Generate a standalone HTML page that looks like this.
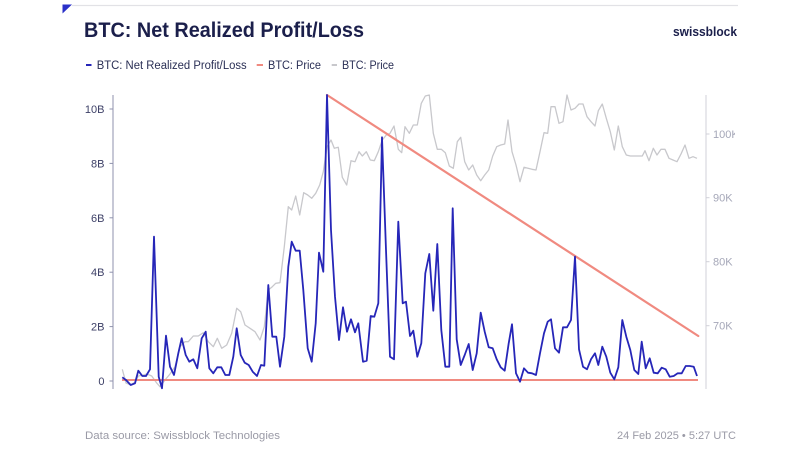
<!DOCTYPE html>
<html>
<head>
<meta charset="utf-8">
<style>
  html, body { margin:0; padding:0; background:#ffffff; }
  body { width:800px; height:450px; overflow:hidden; }
  svg { display:block; }
  text { font-family: "Liberation Sans", "DejaVu Sans", sans-serif; }
</style>
</head>
<body>
<svg width="800" height="450" viewBox="0 0 800 450" xmlns="http://www.w3.org/2000/svg">
  <rect x="0" y="0" width="800" height="450" fill="#ffffff"/>
  <defs>
    <clipPath id="rclip"><rect x="700" y="80" width="35" height="320"/></clipPath>
  </defs>

  <!-- top decoration -->
  <line x1="72" y1="5.5" x2="738" y2="5.5" stroke="#e2e2e6" stroke-width="1.2"/>
  <polygon points="62.5,4.5 72,4.5 62.5,13.5" fill="#2a30c8"/>

  <!-- title -->
  <text x="84" y="37" font-size="21" font-weight="bold" fill="#1b1f4b" textLength="280" lengthAdjust="spacingAndGlyphs">BTC: Net Realized Profit/Loss</text>
  <!-- logo -->
  <text x="673" y="36" font-size="13" font-weight="bold" fill="#1b1f4b" textLength="64" lengthAdjust="spacingAndGlyphs">swissblock</text>

  <!-- legend -->
  <line x1="86" y1="65" x2="91.5" y2="65" stroke="#2626b8" stroke-width="2"/>
  <text x="96.7" y="69" font-size="11.5" fill="#2a2f55" textLength="150" lengthAdjust="spacingAndGlyphs">BTC: Net Realized Profit/Loss</text>
  <line x1="256.7" y1="65" x2="263" y2="65" stroke="#f08a80" stroke-width="2"/>
  <text x="268" y="69" font-size="11.5" fill="#2a2f55" textLength="53" lengthAdjust="spacingAndGlyphs">BTC: Price</text>
  <line x1="331.7" y1="65" x2="337" y2="65" stroke="#c8c8cc" stroke-width="2"/>
  <text x="342" y="69" font-size="11.5" fill="#2a2f55" textLength="52" lengthAdjust="spacingAndGlyphs">BTC: Price</text>

  <!-- left axis -->
  <line x1="113" y1="95" x2="113" y2="389" stroke="#8f92ad" stroke-width="1"/>
  <g stroke="#8f92ad" stroke-width="1">
    <line x1="109.5" y1="381" x2="113" y2="381"/>
    <line x1="109.5" y1="326.6" x2="113" y2="326.6"/>
    <line x1="109.5" y1="272.2" x2="113" y2="272.2"/>
    <line x1="109.5" y1="217.8" x2="113" y2="217.8"/>
    <line x1="109.5" y1="163.4" x2="113" y2="163.4"/>
    <line x1="109.5" y1="109" x2="113" y2="109"/>
  </g>
  <g font-size="11" fill="#3c3f66" text-anchor="end">
    <text x="104.5" y="385">0</text>
    <text x="104.5" y="330.6">2B</text>
    <text x="104.5" y="276.2">4B</text>
    <text x="104.5" y="221.8">6B</text>
    <text x="104.5" y="167.4">8B</text>
    <text x="104.5" y="113">10B</text>
  </g>

  <!-- right axis -->
  <line x1="706" y1="95" x2="706" y2="389" stroke="#d0d0d8" stroke-width="1"/>
  <g stroke="#d0d0d8" stroke-width="1">
    <line x1="706" y1="134" x2="709.5" y2="134"/>
    <line x1="706" y1="197.7" x2="709.5" y2="197.7"/>
    <line x1="706" y1="261.7" x2="709.5" y2="261.7"/>
    <line x1="706" y1="325.7" x2="709.5" y2="325.7"/>
  </g>
  <g font-size="11" fill="#a5a7b8" clip-path="url(#rclip)">
    <text x="713" y="138">100K</text>
    <text x="713" y="201.7">90K</text>
    <text x="713" y="265.7">80K</text>
    <text x="713" y="329.7">70K</text>
  </g>

  <!-- grey price series -->
  <polyline fill="none" stroke="#c8c8cc" stroke-width="1.3" stroke-linejoin="round" points="122.3,369.3 126,383 130.7,385 135,382 138.3,376 143.3,375 147,374 151.7,376 156.7,383 160,386.7 165,380 170,374 175,366.7 180,346.7 185,341.7 188.3,341.7 193.3,336 198.3,336 203.3,332.7 208.3,341.7 213.3,346.7 217.3,338.3 221.7,348.3 226.7,345 231.7,333.3 236.7,308.3 240.7,311.7 245,325 250,328.3 255,331.7 260,340 264.3,326.7 268.3,290 272.3,286.7 275.7,283.3 280,282.7 284.3,246.7 288.3,206.7 291.7,210 295.7,196 299.7,215 303.7,192.7 307.7,195 311.7,198.3 315.7,193.3 319.7,185 323.3,171.7 327,146.7 331,140 334.3,148.3 338.3,147.3 342.3,177.3 346.7,185 351,160.7 355,161.7 359,151.7 362.3,156 366.3,151.7 370.3,160 374.3,160.7 378.3,151.7 382.3,140 386.3,135 390,133.3 394,126 398.3,149.3 401.7,152.7 405,126.7 409.3,133.3 413.3,125 417.3,125 421.3,103.3 425.3,96 429.3,95 433.3,133.3 437.3,149.3 441.3,149.3 445.3,152.7 449.3,166 453.3,168.3 457.3,141.7 460.7,137.3 464.7,161.7 468.7,170 472.7,165 476.7,175 480.7,180.7 484.7,175 488.7,170 492.7,156 496.7,146.7 500.7,145 504.7,144 508,120 512,151.7 516,165 520,181.7 524,167.3 528,168.3 532,169.3 536,170 540,151.7 544,132.7 547.7,133.3 551,106.7 555,106.7 559,123.3 563,121.7 567,95 571,110 575,108.3 579,104 583,104 587,116.7 591,121.7 595,126 598.3,110.7 602.3,104 606.3,118.3 610.3,131.7 614.3,150 618.3,126 622.3,146.7 626.3,155 630.3,156 634.3,156 638.3,156 642.3,156 645,150.7 649,160.7 653.3,148.3 657,155 661,149.3 665,149.3 669,158.3 673,160 677,161.7 681,154 685,145 689,158.3 693,156.7 697,158.3"/>

  <!-- red price lines -->
  <line x1="327" y1="95" x2="698.3" y2="336" stroke="#f08a80" stroke-width="2.2" stroke-linecap="round"/>
  <line x1="122" y1="380" x2="698" y2="380" stroke="#f08a80" stroke-width="2"/>

  <!-- blue NRPL series -->
  <polyline fill="none" stroke="#2626b8" stroke-width="1.8" stroke-linejoin="round" points="122.3,377.3 126,380 130.7,385 135,383.3 138.3,370.7 142.3,376 146,376 150,369.3 154,236.7 158.7,376.7 162,388.3 166,335.7 170,366.7 174,375 178.3,353.3 181.7,338.3 185.7,355 189.3,361.7 193.3,359.3 197.3,368.3 201.7,338.3 205.7,331.7 209.3,368.3 213.3,373.3 217.3,367.3 221.3,367.3 225.3,375 229.3,375 233.3,356.7 236.7,328.3 240.7,355 244.7,362.7 248.7,365 252.7,371.7 257,376 261,365 264.3,365.7 268.3,285 272.3,336.7 276.3,336.7 280,366.7 284.3,336.7 288.3,266.7 291.7,241.7 295.7,250.7 299.7,250.7 303.3,290 307.7,348.3 311.7,361.7 315.7,323.3 319,252.7 323.3,271.7 327,95 331,230 335,296.7 339,340 343,307.3 347,331.7 351,319.3 355,332.3 358.3,323.3 363,361.7 366.7,360.7 370.7,316 374.3,316.7 378.3,303.3 382,137.3 386,250 390,356.7 394,359.3 398.3,221.7 402.7,303.3 406,301.7 410,336 413.3,330.7 417.3,356.7 421.3,343.3 425.3,273.3 429.3,254 433.3,310.7 437.3,244 441.3,330 445.3,366.7 449.3,366.7 452.7,208.3 456.7,339.3 460.7,365 464.7,355 468.7,344 472.7,370 476.7,353.3 480.7,312.7 484.7,331.7 488.7,347.3 492.7,348.3 496.7,359.3 500.7,367.3 504.7,370.7 508.7,343.3 512,324.3 516,373.3 520,381.7 524,368.3 528,372.7 532,373.3 536,375 540,353.3 544,333.3 547.7,321.7 551,319.3 555,348.3 559,352.7 563,327.3 567,327.3 571,320 575,256.7 579,349.3 583,366.7 587,369.3 591,359.3 595,353.3 598.3,365 602.3,346.7 606.3,356.7 610.3,372.7 614.3,379.3 618.3,367.3 622.3,320 626.3,336.7 630.3,350 634.3,370 638.3,374 641.7,341.7 645.7,368.3 649.7,358.3 653.7,372.7 657.7,373.3 661.7,367.7 665.7,369.3 669.7,376.7 673.7,376 677.7,373.3 681.7,373.3 685.7,366 689.7,366 693.7,366.7 697,376"/>

  <!-- footer -->
  <text x="85" y="439" font-size="11" fill="#9a9aa6" textLength="195" lengthAdjust="spacingAndGlyphs">Data source: Swissblock Technologies</text>
  <text x="617" y="439" font-size="11" fill="#9a9aa6" textLength="119" lengthAdjust="spacingAndGlyphs">24 Feb 2025 • 5:27 UTC</text>
</svg>
</body>
</html>
